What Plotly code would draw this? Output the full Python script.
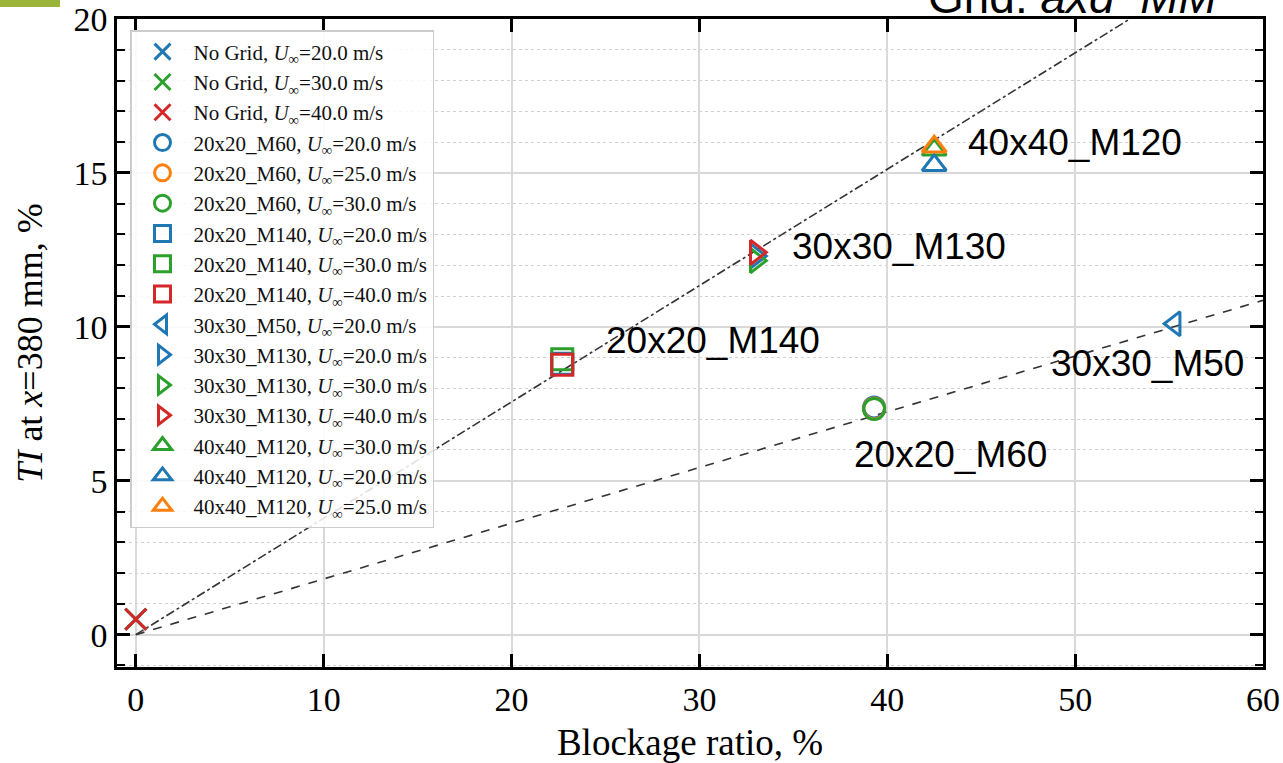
import plotly.graph_objects as go

# ---- data ----
series_names = [
    "No Grid, <i>U</i><sub>∞</sub>=20.0 m/s",
    "No Grid, <i>U</i><sub>∞</sub>=30.0 m/s",
    "No Grid, <i>U</i><sub>∞</sub>=40.0 m/s",
    "20x20_M60, <i>U</i><sub>∞</sub>=20.0 m/s",
    "20x20_M60, <i>U</i><sub>∞</sub>=25.0 m/s",
    "20x20_M60, <i>U</i><sub>∞</sub>=30.0 m/s",
    "20x20_M140, <i>U</i><sub>∞</sub>=20.0 m/s",
    "20x20_M140, <i>U</i><sub>∞</sub>=30.0 m/s",
    "20x20_M140, <i>U</i><sub>∞</sub>=40.0 m/s",
    "30x30_M50, <i>U</i><sub>∞</sub>=20.0 m/s",
    "30x30_M130, <i>U</i><sub>∞</sub>=20.0 m/s",
    "30x30_M130, <i>U</i><sub>∞</sub>=30.0 m/s",
    "30x30_M130, <i>U</i><sub>∞</sub>=40.0 m/s",
    "40x40_M120, <i>U</i><sub>∞</sub>=30.0 m/s",
    "40x40_M120, <i>U</i><sub>∞</sub>=20.0 m/s",
    "40x40_M120, <i>U</i><sub>∞</sub>=25.0 m/s",
]
blockage = [0.0, 0.0, 0.0, 39.3, 39.3, 39.3, 22.7, 22.7, 22.7, 55.3, 33.0, 33.0, 33.0, 42.5, 42.5, 42.5]
ti_values = [0.5, 0.5, 0.5, 7.38, 7.35, 7.33, 8.8, 8.95, 8.77, 10.1, 12.3, 12.15, 12.42, 15.75, 15.25, 15.85]
symbols = ["x-thin-open", "x-thin-open", "x-thin-open",
           "circle-open", "circle-open", "circle-open",
           "square-open", "square-open", "square-open",
           "triangle-left-open",
           "triangle-right-open", "triangle-right-open", "triangle-right-open",
           "triangle-up-open", "triangle-up-open", "triangle-up-open"]
colors = ["#1f77b4", "#2ca02c", "#d62728",
          "#1f77b4", "#ff7f0e", "#2ca02c",
          "#1f77b4", "#2ca02c", "#d62728",
          "#1f77b4",
          "#1f77b4", "#2ca02c", "#d62728",
          "#2ca02c", "#1f77b4", "#ff7f0e"]

label_texts = ["40x40_M120", "30x30_M130", "20x20_M140", "30x30_M50", "20x20_M60"]
label_x = [44.2, 34.8, 24.9, 48.6, 38.1]
label_y = [16.0, 12.6, 9.55, 8.8, 5.85]

fit_x = [0, 60]
slope_dashdot = 0.378
slope_dashed = 0.181

fig = go.Figure()

fig.add_trace(go.Scatter(x=fit_x, y=[slope_dashdot * v for v in fit_x], mode="lines",
                         line=dict(color="#333333", width=1.6, dash="dashdot"),
                         showlegend=False, hoverinfo="skip"))
fig.add_trace(go.Scatter(x=fit_x, y=[slope_dashed * v for v in fit_x], mode="lines",
                         line=dict(color="#333333", width=1.6, dash="dash"),
                         showlegend=False, hoverinfo="skip"))

for name, xv, yv, sym, col in zip(series_names, blockage, ti_values, symbols, colors):
    fig.add_trace(go.Scatter(
        x=[xv], y=[yv], mode="markers", name=name,
        marker=dict(symbol=sym, size=21, color=col, line=dict(color=col, width=3)),
    ))

for t, xv, yv in zip(label_texts, label_x, label_y):
    fig.add_annotation(x=xv, y=yv, text=t, showarrow=False, xanchor="left", yanchor="middle",
                       font=dict(family="Liberation Sans, Arial", size=37, color="black"))

fig.add_annotation(xref="paper", yref="paper", x=(926 - 117) / 1146, y=1, xanchor="left", yanchor="bottom",
                   yshift=-6, text="Grid: <i>axd_MM</i>", showarrow=False,
                   font=dict(family="Liberation Sans, Arial", size=46, color="black"))

fig.add_shape(type="rect", xref="paper", yref="paper",
              x0=-117 / 1146, x1=(60 - 117) / 1146, y0=1 + 19 / 648, y1=1 + 12 / 648,
              fillcolor="#9bb53a", line=dict(width=0), layer="above")

serif = "Liberation Serif, Times New Roman, serif"

fig.update_layout(
    width=1283, height=763,
    margin=dict(l=117, r=20, t=19, b=96, autoexpand=False),
    paper_bgcolor="white", plot_bgcolor="white",
    font=dict(family=serif, size=34, color="black"),
    showlegend=True,
    legend=dict(x=13 / 1146, y=1 - 11 / 648, xanchor="left", yanchor="top",
                bgcolor="rgba(255,255,255,0.85)", bordercolor="#cccccc", borderwidth=1.5,
                font=dict(family=serif, size=21, color="#111111"),
                tracegroupgap=0, itemsizing="trace", itemwidth=52),
    xaxis=dict(range=[-1, 60], tickvals=[0, 10, 20, 30, 40, 50, 60],
               ticks="inside", ticklen=13, tickwidth=2.5, tickcolor="black",
               showline=True, linecolor="black", linewidth=2.5, mirror="ticks",
               showgrid=True, gridcolor="#d9d9d9", gridwidth=1.5, zeroline=False,
               tickfont=dict(family=serif, size=34),
               title=dict(text="Blockage ratio, %", font=dict(family=serif, size=37), standoff=18)),
    yaxis=dict(range=[-1.05, 20], tickvals=[0, 5, 10, 15, 20],
               ticks="inside", ticklen=13, tickwidth=2.5, tickcolor="black",
               showline=True, linecolor="black", linewidth=2.5, mirror="ticks",
               showgrid=True, gridcolor="#d9d9d9", gridwidth=1.5, zeroline=False,
               tickfont=dict(family=serif, size=34),
               minor=dict(dtick=1, tick0=0, ticks="inside", ticklen=8, tickwidth=2,
                          tickcolor="black", showgrid=True, gridcolor="#d0d0d0",
                          griddash="dot", gridwidth=1.2),
               title=dict(text="<i>TI</i> at <i>x</i>=380 mm, %", font=dict(family=serif, size=36), standoff=20)),
)

fig.write_html("out.html", config={"displayModeBar": False},
               post_script="document.body.style.margin='0';document.body.style.overflow='hidden';")
